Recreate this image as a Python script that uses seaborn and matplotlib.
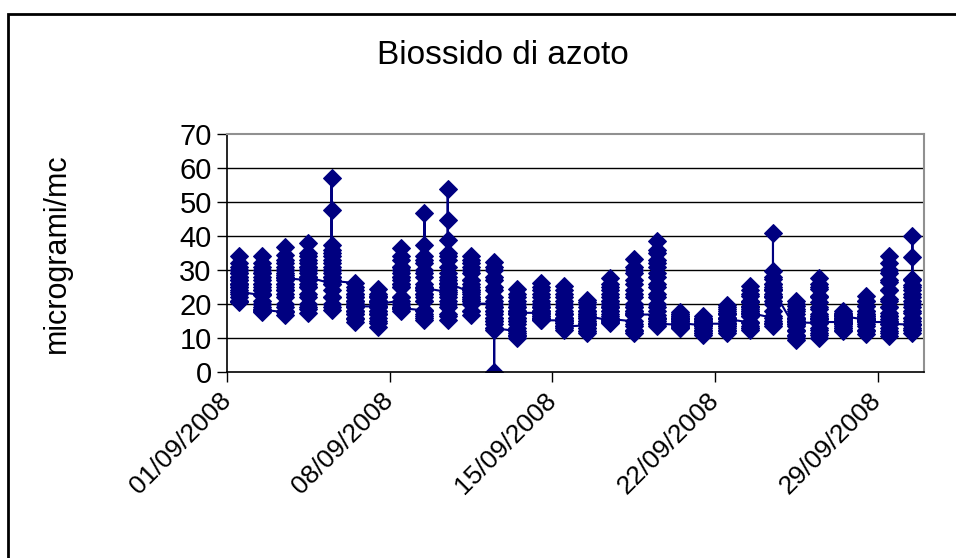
import pandas as pd
import matplotlib
matplotlib.use("Agg")
import matplotlib.pyplot as plt
import matplotlib.dates as mdates
from matplotlib.patches import Rectangle
import seaborn as sns

# --- DATA: hourly NO2 readings (microgrammi/mc), one list per day of Sept 2008 ---
sep01 = [25, 24, 22, 21, 20.6, 21, 23, 26, 29, 30, 28, 27, 26, 25, 26, 27, 29, 31, 34.1, 32, 30, 28, 26, 23.6]
sep02 = [22.6, 21, 19, 18, 17.6, 18.5, 20, 24, 28, 31, 29, 26, 24, 23, 25, 27, 30, 34.1, 32, 29, 26, 23, 20, 18.3]
sep03 = [17.6, 16.9, 18, 19, 20, 22, 24, 27, 30, 32, 29, 26, 25, 23, 24, 26, 28, 31, 34.5, 36.7, 33, 30, 28.5, 27.6]
sep04 = [27, 25, 22, 20, 18.5, 17.5, 19, 23, 28, 31, 33, 30, 27, 25, 26, 28, 30, 32, 35, 37.9, 34, 31, 29, 27.9]
sep05 = [26, 24, 22, 20, 18.3, 19, 22, 26, 30, 33, 35, 37.5, 31, 28, 27, 29, 32, 36, 47.7, 57.2, 34, 30, 28, 26.8]
sep06 = [26.2, 25, 23, 21, 19, 17, 15.5, 14.7, 16, 18, 20, 22, 21, 19, 18, 17, 18, 20, 22, 24, 23, 21, 20, 19.3]
sep07 = [19.3, 18, 17, 16, 14.5, 13.1, 15, 17, 19, 21, 23, 24.4, 22, 20, 19, 18, 17, 19, 21, 22.5, 22, 21, 20.5, 20]
sep08 = [21, 20, 19, 18.5, 17.8, 19, 22, 26, 30, 33, 36.5, 34, 31, 28, 26, 25, 27, 29, 31, 28, 25, 22, 20, 18.8]
sep09 = [18.1, 17, 16, 15.4, 16.5, 18, 21, 25, 29, 32, 34, 37.5, 46.8, 33, 30, 28, 26, 24, 23, 22, 21, 23, 24, 24.7]
sep10 = [23.5, 21, 19, 17, 15.2, 16.5, 20, 25, 29, 33, 35, 38.9, 44.6, 53.8, 34, 31, 28, 26, 24, 22, 23, 25, 27, 26.2]
sep11 = [23.4, 22, 20, 18, 16.7, 18, 21, 24, 27, 30, 32, 34, 33, 31, 29, 27, 26, 25, 24, 23, 22, 21.5, 21, 20.1]
sep12 = [20.1, 19, 18, 17, 16, 15, 14, 13, 12.5, 0, 15, 18, 21, 24, 27, 30, 32.5, 31, 28, 25, 22, 19, 16, 12.9]
sep13 = [12, 11, 10, 10.5, 11.5, 13, 15, 17, 19, 21, 23, 24.4, 22, 20, 18, 17, 16, 15, 14, 16, 18, 19, 18, 17.4]
sep14 = [17.4, 16.5, 16, 15.5, 15.2, 16, 18, 20, 22, 24, 26.2, 25, 23, 21, 19, 18, 17, 18, 19, 20, 19, 18, 16.5, 15.2]
sep15 = [15.2, 14.5, 13.5, 13, 12.5, 13.5, 15, 17, 19, 21, 23, 25.2, 24, 22, 20, 18, 17, 16, 15, 16, 17, 16, 14.5, 13.4]
sep16 = [13.7, 13, 12, 11.5, 12, 13, 14.5, 16, 18, 20, 21.3, 20.5, 19, 18, 17, 16, 15, 14, 15, 16, 17, 18, 17, 16.4]
sep17 = [15.2, 14.8, 14.4, 15, 16, 17, 19, 21, 23, 25, 27.6, 26, 24, 22, 20, 19, 18, 19, 20, 21, 19, 18, 16.5, 15.6]
sep18 = [14.9, 13.5, 12, 11.5, 12.5, 14, 17, 20, 23, 26, 29, 31, 33.2, 30, 27, 24, 22, 20, 19, 18, 19, 18, 17.5, 16.9]
sep19 = [16.9, 15.5, 14.5, 13.4, 14, 16, 19, 22, 25, 28, 31, 33, 35, 38.4, 36, 32, 29, 26, 23, 20, 18, 16, 15, 14.2]
sep20 = [13.9, 13.5, 13, 12.8, 13.2, 14, 15, 16, 17, 17.7, 17.2, 16.5, 16, 15.5, 15, 14.5, 15, 15.5, 16, 16.5, 16, 15.5, 15, 14.4]
sep21 = [13.7, 13, 12, 11.5, 11, 11.5, 12.5, 13.5, 14.5, 15.5, 16.6, 16, 15.5, 15, 14.5, 14, 13.5, 14, 14.5, 15, 15.5, 15, 14.5, 14.2]
sep22 = [14.2, 13.5, 12.5, 11.5, 12, 13, 14.5, 16, 17.5, 19, 19.8, 18.5, 17, 16, 15, 14, 13.5, 14.5, 16, 17, 18, 17, 16, 15.6]
sep23 = [14.6, 13.5, 12.8, 12.3, 13, 14.5, 16.5, 18.5, 20.5, 22.5, 24, 25.4, 23, 21, 19, 17.5, 16.5, 17, 18, 19.5, 20.5, 19, 18, 17.4]
sep24 = [15.9, 14.5, 13.4, 14, 15, 16.5, 18, 20, 22, 24, 26, 27.5, 29.6, 40.9, 28, 26, 24.5, 23, 22, 21, 22.5, 24, 25, 24.2]
sep25 = [12.5, 11, 10, 9.3, 10.5, 12, 14, 16, 18, 19.5, 20.8, 20, 18.5, 17, 16, 15, 14, 13.5, 14, 15, 16, 15.5, 15, 14.6]
sep26 = [14.4, 13, 11.5, 10, 11, 12.5, 14.5, 16.5, 18.5, 20.5, 22.5, 24.5, 26, 27.6, 25, 22, 19, 17, 16, 15.5, 16, 15.5, 15, 14.7]
sep27 = [14.7, 14, 13, 12.5, 12, 12.8, 13.5, 14.5, 15.5, 16.5, 17.3, 17.8, 17.2, 16.5, 15.8, 15, 14.5, 14, 14.5, 15.2, 16, 16.8, 16.6, 16.4]
sep28 = [15.4, 14, 12.5, 11.3, 12, 13.5, 15, 16.5, 18, 19.5, 21, 22.3, 21, 19.5, 18, 17, 16, 15, 15.5, 16.5, 17, 16, 15.2, 14.7]
sep29 = [14.7, 13, 11.5, 10.7, 12, 14, 16.5, 19, 21.5, 24, 26.5, 29, 32, 34, 30, 27, 24, 21, 19, 17.5, 16.5, 15.5, 15, 14.2]
sep30 = [13.9, 12.5, 11.5, 12.5, 14, 16, 18, 20, 22, 24, 25.5, 27.5, 33.7, 40.1, 27, 25, 23, 21, 19, 17.5, 16, 15, 14, 13]

days = [sep01, sep02, sep03, sep04, sep05, sep06, sep07, sep08, sep09, sep10,
        sep11, sep12, sep13, sep14, sep15, sep16, sep17, sep18, sep19, sep20,
        sep21, sep22, sep23, sep24, sep25, sep26, sep27, sep28, sep29, sep30]
dates = pd.date_range("2008-09-01", periods=len(days), freq="D")
tick_dates = ["2008-09-01", "2008-09-08", "2008-09-15", "2008-09-22", "2008-09-29"]

# Excel date axis: every reading of a day sits in the middle of that day's slot
rows = []
for d, vals in zip(dates, days):
    for v in vals:
        rows.append({"data": d + pd.Timedelta(hours=12), "no2": v})
df = pd.DataFrame(rows)

# --- PLOT ---
sns.set_style("white")
plt.rcParams["font.family"] = ["Liberation Sans", "DejaVu Sans"]
for k in ["text.color", "axes.labelcolor", "xtick.color", "ytick.color"]:
    plt.rcParams[k] = "black"

fig = plt.figure(figsize=(9.56, 5.58), dpi=100)
ax = fig.add_axes([227 / 956, 186 / 558, 697 / 956, 238 / 558])

navy = "#000080"
sns.lineplot(data=df, x="data", y="no2", estimator=None, sort=False, ax=ax,
             color=navy, linewidth=1.5, marker="D", markersize=9.5,
             markeredgecolor=navy, markerfacecolor=navy)

ax.set_xlim(pd.Timestamp("2008-09-01"), pd.Timestamp("2008-10-01"))
ax.set_ylim(0, 70)
ax.set_yticks(range(0, 71, 10))
ax.set_xticks(pd.to_datetime(tick_dates))
ax.xaxis.set_major_formatter(mdates.DateFormatter("%d/%m/%Y"))

for y in range(10, 70, 10):
    ax.axhline(y, color="black", linewidth=1.0, zorder=0)

for s in ["top", "right"]:
    ax.spines[s].set_color("#909090")
    ax.spines[s].set_linewidth(1.5)
for s in ["left", "bottom"]:
    ax.spines[s].set_color("black")
    ax.spines[s].set_linewidth(1.2)

ax.tick_params(axis="y", direction="out", length=7, width=1, labelsize=21, pad=4, left=True)
ax.tick_params(axis="x", direction="out", length=7, width=1, labelsize=19, pad=11, bottom=True)
plt.setp(ax.get_xticklabels(), rotation=45, ha="right", va="center",
         rotation_mode="anchor")
ax.set_xlabel("")
ax.set_ylabel("microgrami/mc", fontsize=22)
ax.yaxis.set_label_coords((72 - 227) / 697, 0.5)

fig.text(503 / 956, 1 - 55 / 558, "Biossido di azoto", fontsize=24,
         ha="center", va="center")

# chart area frame (Excel style)
fig.add_artist(Rectangle((8 / 956, -1), 2, 1 + (1 - 14 / 558), transform=fig.transFigure,
                         fill=False, edgecolor="black", linewidth=2))

fig.savefig("out.png", dpi=100)
